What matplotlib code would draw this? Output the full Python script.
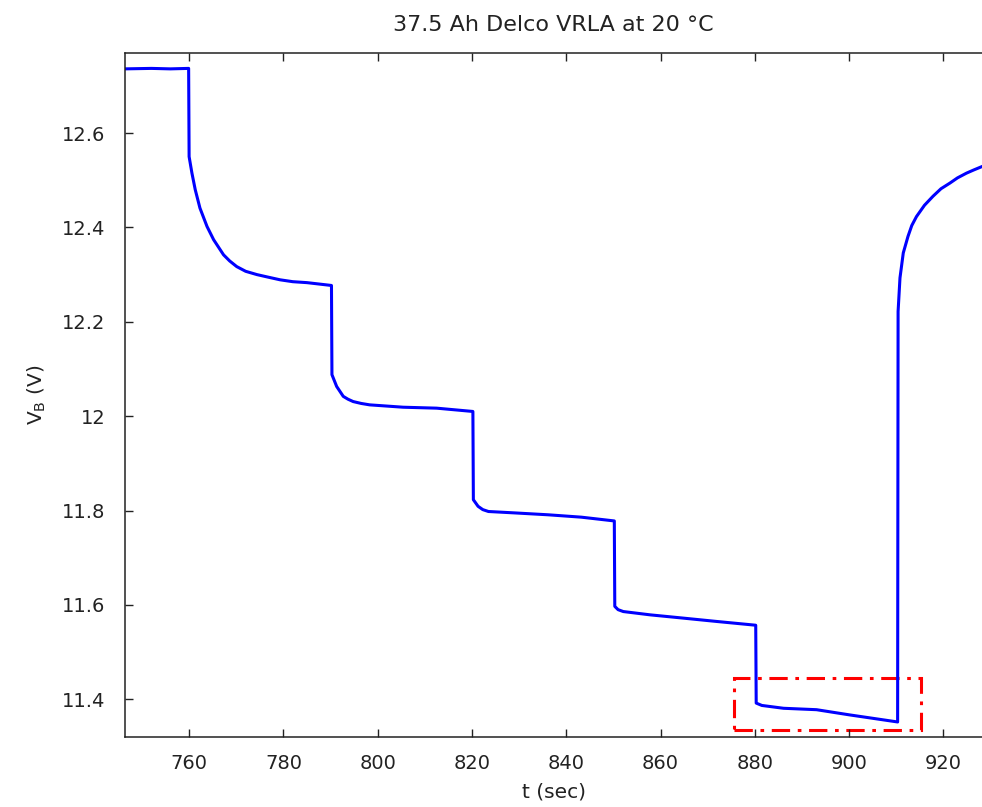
import matplotlib
matplotlib.use("Agg")
import matplotlib.pyplot as plt
import matplotlib.patches as patches
import numpy as np

# battery voltage (sec, volts)
t_sec = [746.4, 752.0, 756.0, 759.9,
         760.0, 760.6, 761.3, 762.3, 763.8, 765.2, 767.3, 768.6, 770.1, 772.0, 774.4, 776.6,
         779.3, 782.0, 785.0, 790.2,
         790.3, 791.3, 792.7, 793.7, 794.8, 796.5, 798.3, 805.4, 812.5, 820.2,
         820.3, 821.3, 822.3, 823.5, 829.1, 836.2, 843.2, 850.2,
         850.3, 851.0, 852.1, 857.8, 864.9, 871.9, 880.2,
         880.3, 881.5, 886.1, 893.1, 900.1, 910.3,
         910.4, 910.8, 911.5, 912.5, 913.3, 914.3, 916.0, 917.8, 919.5, 921.4, 923.0,
         924.9, 926.5, 928.2]
v_batt = [12.736, 12.737, 12.736, 12.737,
          12.550, 12.515, 12.480, 12.441, 12.402, 12.374, 12.342, 12.329, 12.317, 12.307, 12.300, 12.295,
          12.289, 12.285, 12.283, 12.277,
          12.088, 12.063, 12.042, 12.036, 12.031, 12.027, 12.024, 12.019, 12.017, 12.010,
          11.823, 11.809, 11.802, 11.798, 11.795, 11.791, 11.786, 11.778,
          11.597, 11.590, 11.586, 11.579, 11.572, 11.565, 11.557,
          11.392, 11.387, 11.381, 11.378, 11.367, 11.352,
          12.222, 12.293, 12.346, 12.381, 12.404, 12.423, 12.447, 12.466, 12.482, 12.494, 12.505,
          12.515, 12.522, 12.529]

# dash-dot box around the last load step
box_t = [875.6, 915.3]
box_v = [11.335, 11.4445]

x_ticks = [760, 780, 800, 820, 840, 860, 880, 900, 920]
y_ticks = [11.4, 11.6, 11.8, 12.0, 12.2, 12.4, 12.6]
y_labels = ["11.4", "11.6", "11.8", "12", "12.2", "12.4", "12.6"]

plt.rcParams['font.family'] = ['DejaVu Sans']

fig = plt.figure(figsize=(9.82, 8.07), dpi=100)
ax = fig.add_axes([125/982, 69.7/807, 857/982, 684/807])

ax.plot(t_sec, v_batt, color='#0000ff', lw=2.2, solid_joinstyle='round')

rect = patches.Rectangle((box_t[0], box_v[0]), box_t[1]-box_t[0], box_v[1]-box_v[0],
                         fill=False, edgecolor='#ff0000', lw=2.2,
                         linestyle=(0, (6, 2.5, 1.2, 2.5)), clip_on=False)
ax.add_patch(rect)

ax.set_xlim(746.4, 928.2)
ax.set_ylim(11.3195, 12.769)
ax.set_xticks(x_ticks)
ax.set_yticks(y_ticks)
ax.set_yticklabels(y_labels)
ax.tick_params(direction='in', length=6, width=1, labelsize=14, top=True, right=False,
               colors='#222222')
ax.tick_params(axis='x', pad=12)
ax.tick_params(axis='y', pad=14)
ax.spines['right'].set_visible(False)
for s in ['left', 'top', 'bottom']:
    ax.spines[s].set_linewidth(1.1)
    ax.spines[s].set_color('#222222')

ax.set_title("37.5 Ah Delco VRLA at 20 °C", fontsize=16, pad=16, color='#222222')
ax.set_xlabel("t (sec)", fontsize=14.5, labelpad=7, color='#222222')
ax.set_ylabel("V$_\\mathregular{B}$ (V)", fontsize=14.5, labelpad=10, color='#222222')

fig.savefig("out.png", dpi=100)
